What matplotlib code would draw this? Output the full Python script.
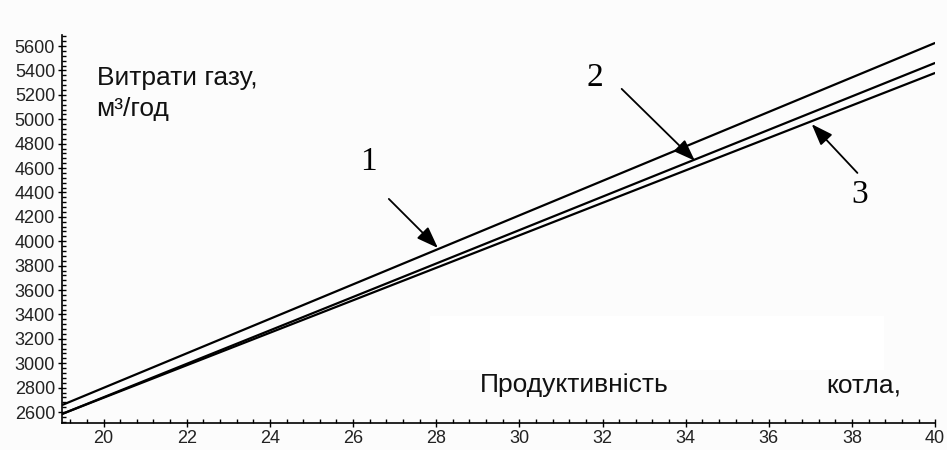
import matplotlib
matplotlib.use("Agg")
import matplotlib.pyplot as plt
from matplotlib.ticker import MultipleLocator, AutoMinorLocator
from matplotlib.patches import Rectangle

# boiler output (x) and gas consumption, m3/h, for three cases
x_vals = [19, 40]
gas_1 = [2657, 5626]
gas_2 = [2584, 5462]
gas_3 = [2584, 5380]

curve_labels = ["1", "2", "3"]
label_xy = [(26.38, 4650), (31.81, 5339), (38.18, 4379)]
arrow_tail = [(26.86, 4347), (32.46, 5249), (38.13, 4560)]
arrow_tip = [(28.04, 3945), (34.22, 4660), (37.03, 4960)]

bg = "#fcfcfc"
fig = plt.figure(figsize=(9.47, 4.5), dpi=100, facecolor=bg)
ax = fig.add_axes([0.0655, 0.06, 0.922, 0.862])
ax.set_facecolor("none")

# white patch behind the x caption
fig.patches.append(Rectangle((0.454, 0.178), 0.48, 0.12, transform=fig.transFigure,
                             facecolor="white", edgecolor="none", zorder=0))

for y in (gas_1, gas_2, gas_3):
    ax.plot(x_vals, y, color="black", lw=1.6, solid_capstyle="butt")

ax.set_xlim(19, 40)
ax.set_ylim(2510, 5690)
ax.xaxis.set_major_locator(MultipleLocator(2))
ax.xaxis.set_minor_locator(AutoMinorLocator(5))
ax.yaxis.set_major_locator(MultipleLocator(200))
ax.yaxis.set_minor_locator(AutoMinorLocator(5))

for s in ("top", "right"):
    ax.spines[s].set_visible(False)
for s in ("left", "bottom"):
    ax.spines[s].set_linewidth(1.2)

ax.tick_params(which="major", direction="inout", length=6, width=1, pad=2)
ax.tick_params(which="minor", direction="in", length=3, width=1)
for lab in ax.get_xticklabels() + ax.get_yticklabels():
    lab.set_fontfamily("Liberation Sans")
    lab.set_fontsize(13)
    lab.set_color("#222222")
ax.get_xticklabels()[0].set_visible(False)

for lab, txy, tail, tip in zip(curve_labels, label_xy, arrow_tail, arrow_tip):
    ax.text(txy[0], txy[1], lab, family="Liberation Serif", fontsize=24,
            ha="center", va="center")
    ax.annotate("", xy=tip, xytext=tail,
                arrowprops=dict(arrowstyle="-|>,head_length=0.6,head_width=0.22",
                                color="black", lw=1.3,
                                mutation_scale=22, shrinkA=0, shrinkB=0))

fig.text(0.102, 0.827, "Витрати газу,", family="Liberation Sans", fontsize=19,
         va="center", ha="left", color="#111111")
fig.text(0.102, 0.757, "м³/год", family="Liberation Sans", fontsize=19,
         va="center", ha="left", color="#111111")
fig.text(0.507, 0.144, "Продуктивність", family="Liberation Sans", fontsize=19,
         va="center", ha="left", color="#111111")
fig.text(0.873, 0.144, "котла,", family="Liberation Sans", fontsize=19,
         va="center", ha="left", color="#111111")

fig.savefig("out.png", dpi=100, facecolor=bg)
